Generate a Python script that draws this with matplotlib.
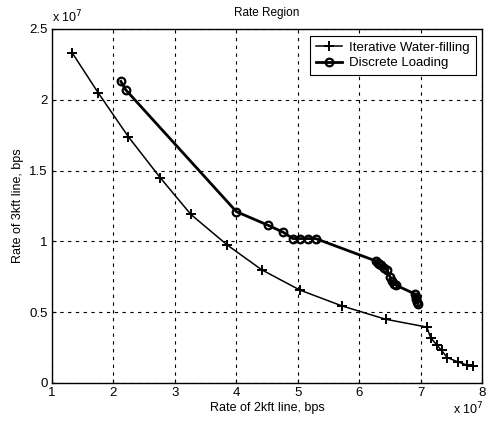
import matplotlib
matplotlib.use("Agg")
import matplotlib.pyplot as plt
from matplotlib.ticker import FuncFormatter

plt.rcParams['font.family'] = ['Liberation Sans', 'DejaVu Sans']

# Values in units of 1e7 bps
iwf_x = [1.33, 1.75, 2.24, 2.76, 3.26, 3.85, 4.41, 5.03, 5.72, 6.43, 7.10,
         7.16, 7.26, 7.34, 7.43, 7.60, 7.75, 7.85]
iwf_y = [2.33, 2.05, 1.74, 1.45, 1.19, 0.975, 0.80, 0.657, 0.544, 0.45, 0.395,
         0.32, 0.27, 0.23, 0.18, 0.15, 0.127, 0.12]

dl_x = [2.12, 2.20, 4.00, 4.51, 4.76, 4.92, 5.03, 5.16, 5.29,
        6.28, 6.30, 6.32, 6.35, 6.40, 6.45, 6.50, 6.53, 6.57, 6.60,
        6.90, 6.92, 6.93, 6.94, 6.95]
dl_y = [2.13, 2.07, 1.21, 1.115, 1.065, 1.02, 1.02, 1.02, 1.02,
        0.86, 0.85, 0.84, 0.83, 0.81, 0.80, 0.75, 0.72, 0.70, 0.69,
        0.63, 0.61, 0.59, 0.57, 0.56]

xticks = [1, 2, 3, 4, 5, 6, 7, 8]
yticks = [0, 0.5, 1, 1.5, 2, 2.5]

fig = plt.figure(figsize=(4.91, 4.24), dpi=100)
ax = fig.add_axes([0.106, 0.0967, 0.876, 0.835])

ax.plot(iwf_x, iwf_y, color='black', lw=1.1, marker='+', ms=7, mew=1.4,
        label='Iterative Water-filling')
ax.plot(dl_x, dl_y, color='black', lw=2.0, marker='o', ms=5.5, mew=1.6,
        mfc='none', label='Discrete Loading')

ax.set_xlim(1, 8)
ax.set_ylim(0, 2.5)
ax.set_xticks(xticks)
ax.set_yticks(yticks)
ax.xaxis.set_major_formatter(FuncFormatter(lambda v, p: f"{v:g}"))
ax.yaxis.set_major_formatter(FuncFormatter(lambda v, p: f"{v:g}"))
ax.tick_params(labelsize=9.5, direction='in', length=3, pad=3)
ax.grid(True, color='black', linestyle=(0, (3, 4)), lw=0.8)
for s in ax.spines.values():
    s.set_linewidth(1.0)

ax.set_title('Rate Region', fontsize=8.5, pad=9)
ax.set_xlabel('Rate of 2kft line, bps', fontsize=9, labelpad=2)
ax.set_ylabel('Rate of 3kft line, bps', fontsize=9, labelpad=4)

fig.text(0.106, 0.94, r'x 10$^7$', fontsize=9, ha='left', va='bottom')
fig.text(0.985, 0.015, r'x 10$^7$', fontsize=9, ha='right', va='bottom')

leg = ax.legend(loc='upper right', fontsize=9.5, frameon=True, fancybox=False,
                edgecolor='black', framealpha=1, borderpad=0.45,
                handlelength=2.0, handletextpad=0.5, labelspacing=0.25,
                borderaxespad=0.5)
leg.get_frame().set_linewidth(0.8)

fig.savefig('out.png', dpi=100)
